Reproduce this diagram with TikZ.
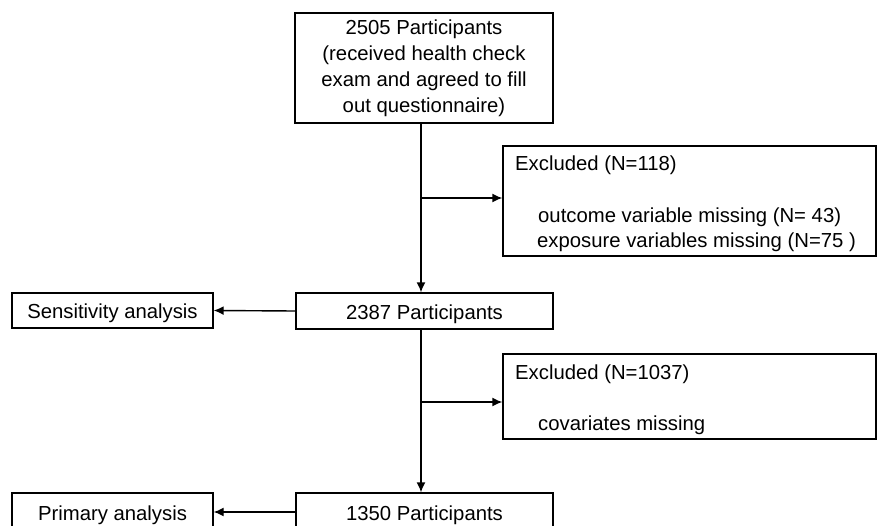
\documentclass[tikz,border=0pt]{standalone}
\usepackage{fontspec}
\setmainfont{Liberation Sans}
\usetikzlibrary{arrows.meta}
\begin{document}
\begin{tikzpicture}[x=1pt,y=-1pt,
  box/.style={draw, line width=1.4pt, rectangle, inner sep=0pt, font=\fontsize{20.3}{26}\selectfont, align=center},
  onebox/.style={box, text height=21pt, text depth=4.3pt},
  txt/.style={inner sep=0pt, anchor=base west, font=\fontsize{20.3}{26}\selectfont},
  arr/.style={line width=1.4pt, -{Latex[length=10pt,width=9pt]}}]
\useasboundingbox (0,0) rectangle (881,525);
\node[box, minimum width=258, minimum height=110] (top) at (424,68) {2505 Participants\\(received health check\\exam and agreed to fill\\out questionnaire)};
\node[box, minimum width=373, minimum height=110] (e1) at (689.5,201) {};
\node[txt] (e1t) at (515,170) {Excluded (N=118)};
\node[txt] (e1a) at (538,222) {outcome variable missing (N= 43)};
\node[txt] (e1b) at (537,247) {exposure variables missing (N=75 )};
\node[onebox, minimum width=201, minimum height=35] (sens) at (112.5,310.5) {Sensitivity analysis};
\node[onebox, minimum width=257, minimum height=36] (p2387) at (424.5,311) {2387 Participants};
\node[box, minimum width=373, minimum height=85] (e2) at (689.5,396.5) {};
\node[txt] (e2t) at (515,379) {Excluded (N=1037)};
\node[txt] (e2a) at (538,430) {covariates missing};
\node[onebox, minimum width=201, minimum height=38] (prim) at (112.5,512) {Primary analysis};
\node[onebox, minimum width=257, minimum height=38] (p1350) at (424.5,512) {1350 Participants};
\coordinate (sp) at (421,0);
\coordinate (b1) at (421,198);
\coordinate (b2) at (421,402);
\draw[arr] (top.south -| sp) -- (p2387.north -| sp);
\draw[arr] (b1) -- (b1 -| e1.west);
\draw[arr] (p2387.south -| sp) -- (p1350.north -| sp);
\draw[arr] (b2) -- (b2 -| e2.west);
\draw[arr] (p2387.west) -- (sens.east);
\draw[arr] (p1350.west) -- (prim.east);
\end{tikzpicture}
\end{document}
